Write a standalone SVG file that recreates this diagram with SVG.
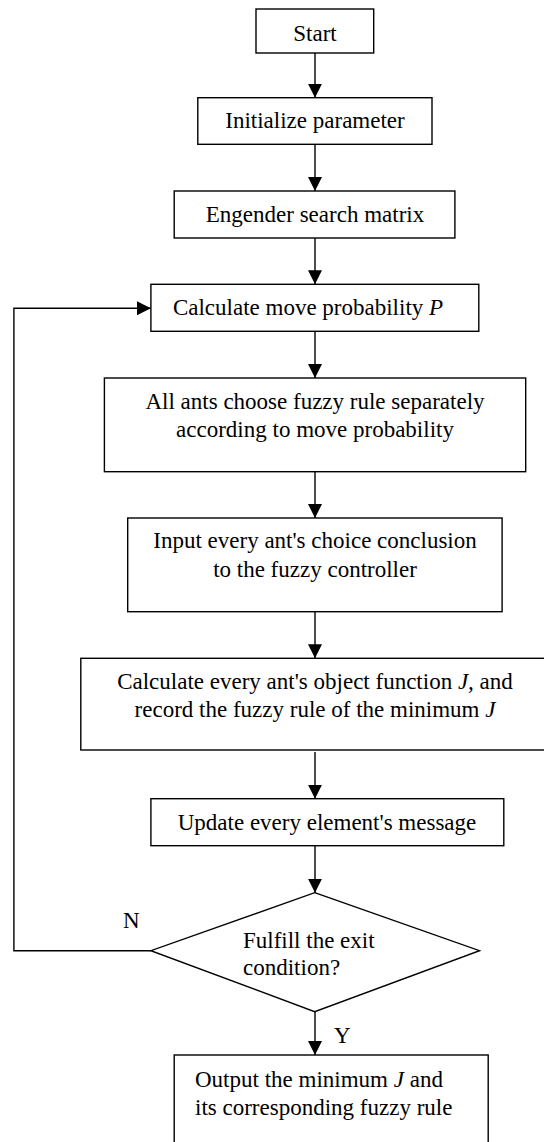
<svg xmlns="http://www.w3.org/2000/svg" width="544" height="1142" viewBox="0 0 544 1142">
<style>
.box{fill:#fff;stroke:#000;stroke-width:1.4}
.t{font-family:"Liberation Serif","Times New Roman",serif;font-size:23px;fill:#000}
.c{text-anchor:middle}
.i{font-style:italic}
.ln{fill:none;stroke:#000;stroke-width:1.4}
</style>
<defs>
<marker id="ah" viewBox="0 0 14 14" markerWidth="14" markerHeight="14" refX="14" refY="7" orient="auto" markerUnits="userSpaceOnUse">
<path d="M0,0 L14,7 L0,14 z" fill="#000"/>
</marker>
</defs>
<rect width="544" height="1142" fill="#fff"/>
<g id="connectors">
<line class="ln" x1="315" y1="53" x2="315" y2="97.7" marker-end="url(#ah)"/>
<line class="ln" x1="315" y1="144.3" x2="315" y2="191" marker-end="url(#ah)"/>
<line class="ln" x1="315" y1="238" x2="315" y2="284.3" marker-end="url(#ah)"/>
<line class="ln" x1="315" y1="331.3" x2="315" y2="378" marker-end="url(#ah)"/>
<line class="ln" x1="315" y1="471.7" x2="315" y2="518" marker-end="url(#ah)"/>
<line class="ln" x1="315" y1="611.7" x2="315" y2="658.3" marker-end="url(#ah)"/>
<line class="ln" x1="315" y1="752" x2="315" y2="798.7" marker-end="url(#ah)"/>
<line class="ln" x1="315" y1="845.7" x2="315" y2="892.7" marker-end="url(#ah)"/>
<line class="ln" x1="315" y1="1011.7" x2="315" y2="1055" marker-end="url(#ah)"/>
<polyline class="ln" points="150.9,950.7 13.9,950.7 13.9,308.3 150.9,308.3" marker-end="url(#ah)"/>
<text class="t" x="123" y="928.3">N</text>
<text class="t" x="334" y="1042.7">Y</text>
</g>
<g id="start">
<rect class="box" x="256" y="9" width="117.7" height="44"/>
<text class="t c" x="315" y="40.7">Start</text>
</g>
<g id="init">
<rect class="box" x="197.8" y="97.7" width="234.2" height="46.6"/>
<text class="t c" x="315" y="128.3">Initialize parameter</text>
</g>
<g id="engender">
<rect class="box" x="174.2" y="191" width="280.7" height="47"/>
<text class="t c" x="315" y="221.7">Engender search matrix</text>
</g>
<g id="calcP">
<rect class="box" x="150.9" y="284.3" width="327.9" height="47"/>
<text class="t c" x="308" y="315">Calculate move probability <tspan class="i">P</tspan></text>
</g>
<g id="choose">
<rect class="box" x="104.4" y="378" width="421.3" height="93.7"/>
<text class="t c" x="315" y="409">All ants choose fuzzy rule separately</text>
<text class="t c" x="315" y="437">according to move probability</text>
</g>
<g id="input">
<rect class="box" x="127.7" y="518" width="374.4" height="93.7"/>
<text class="t c" x="315" y="548.3">Input every ant's choice conclusion</text>
<text class="t c" x="315" y="576.7">to the fuzzy controller</text>
</g>
<g id="calcJ">
<rect class="box" x="80.8" y="658.3" width="468.4" height="91.7"/>
<text class="t c" x="315" y="689">Calculate every ant's object function <tspan class="i">J,</tspan> and</text>
<text class="t c" x="315" y="716.7">record the fuzzy rule of the minimum <tspan class="i">J</tspan></text>
</g>
<g id="update">
<rect class="box" x="150.9" y="798.7" width="352.9" height="47"/>
<text class="t c" x="327" y="830">Update every element's message</text>
</g>
<g id="decision">
<polygon class="box" points="314.7,892.7 479.5,950.7 314.7,1011.7 150.9,950.7"/>
<text class="t" x="243" y="948.3">Fulfill the exit</text>
<text class="t" x="243" y="975">condition?</text>
</g>
<g id="output">
<rect class="box" x="174.2" y="1055" width="314" height="100"/>
<text class="t" x="195" y="1086.7">Output the minimum <tspan class="i">J</tspan> and</text>
<text class="t" x="195" y="1115">its corresponding fuzzy rule</text>
</g>
</svg>
